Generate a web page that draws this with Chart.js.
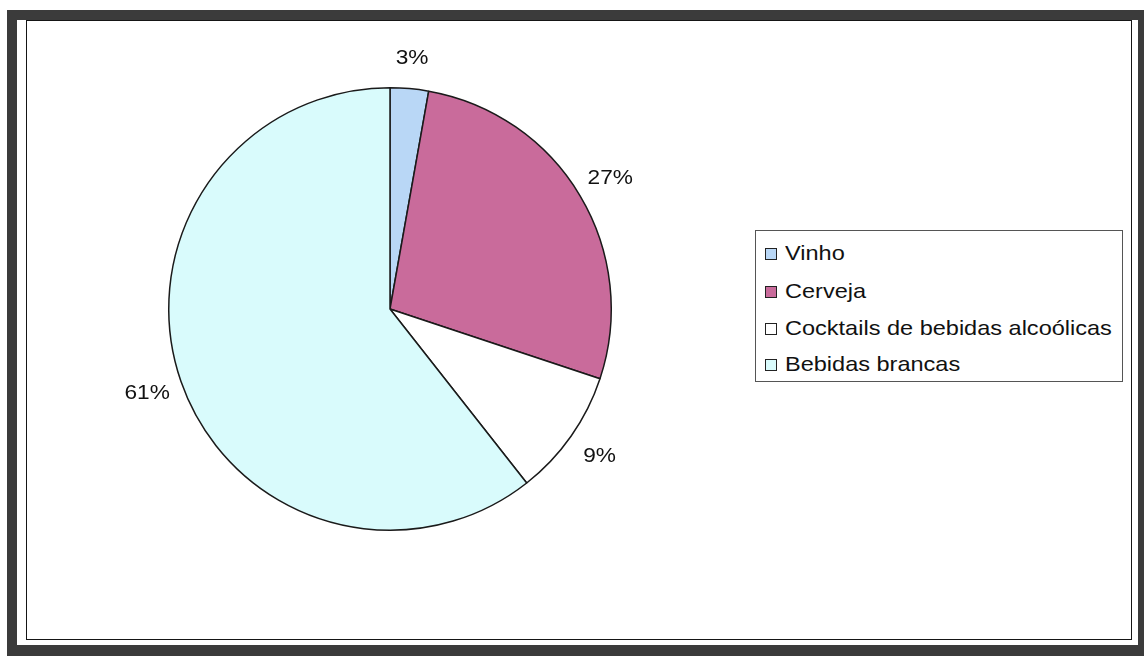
<!DOCTYPE html>
<html>
<head>
<meta charset="utf-8">
<script src="https://cdn.jsdelivr.net/npm/chart.js@4.4.1/dist/chart.umd.min.js"></script>
<style>
  html, body { margin:0; padding:0; background:#fff; width:1144px; height:656px; overflow:hidden; }
  #outer { position:absolute; left:7px; top:10px; width:1121px; height:625px;
           border-style:solid; border-color:#3b3b3b; border-width:10px 6px 11px 10px; }
  #inner { position:absolute; left:26px; top:20px; width:1106px; height:620px;
           border:1.5px solid #151515; box-sizing:border-box; }
  #chart { position:absolute; left:0; top:0; }
  #legend { position:absolute; left:755px; top:230px; width:368px; height:152px; box-sizing:border-box;
            border:1px solid #555; background:#fff;
            font-family:"Liberation Sans", Arial, sans-serif; font-size:21px; color:#111; }
  .item { position:absolute; left:9px; height:24px; line-height:24px; white-space:nowrap; }
  .sw { position:absolute; left:0; top:7px; width:10px; height:10px; border:1.3px solid #222; }
  .txt { position:absolute; left:20px; top:0; transform:scaleX(1.12); transform-origin:left center; }
</style>
</head>
<body>
<div id="outer"></div>
<div id="inner"></div>
<canvas id="chart" width="1144" height="656"></canvas>
<div id="legend"></div>
<script>
const categories = ['Vinho', 'Cerveja', 'Cocktails de bebidas alcoólicas', 'Bebidas brancas'];
const shares = [2.8, 27.3, 9.3, 60.6];
const sliceColors = ['#b9d7f6', '#c96b9b', '#ffffff', '#d9fbfc'];

const pctLabels = {
  id: 'pctLabels',
  afterDatasetsDraw(chart) {
    const ctx = chart.ctx;
    const meta = chart.getDatasetMeta(0);
    ctx.save();
    ctx.font = '21px "Liberation Sans", Arial, sans-serif';
    ctx.fillStyle = '#111';
    ctx.textAlign = 'center';
    ctx.textBaseline = 'middle';
    meta.data.forEach((arc, i) => {
      const p = arc.getProps(['x','y','startAngle','endAngle','outerRadius'], true);
      const mid = (p.startAngle + p.endAngle) / 2;
      const r = p.outerRadius + 30 + 6 * Math.abs(Math.cos(mid));
      const x = p.x + Math.cos(mid) * r;
      const y = p.y + Math.sin(mid) * r;
      ctx.save();
      ctx.translate(x, y);
      ctx.scale(1.08, 1);
      ctx.fillText(Math.round(shares[i]) + '%', 0, 0);
      ctx.restore();
    });
    ctx.restore();
  }
};

const chart = new Chart(document.getElementById('chart'), {
  type: 'pie',
  data: {
    labels: categories,
    datasets: [{
      data: shares,
      backgroundColor: sliceColors,
      borderColor: '#1a1a1a',
      borderWidth: 1.5
    }]
  },
  options: {
    responsive: false,
    animation: false,
    layout: { padding: { left: 168, right: 532, top: 87, bottom: 125 } },
    plugins: { legend: { display: false }, tooltip: { enabled: false } }
  },
  plugins: [pctLabels]
});

// HTML legend built from the chart's own legend items
const legendEl = document.getElementById('legend');
const rowTops = [10, 48, 85, 121];
chart.options.plugins.legend.labels.generateLabels(chart).forEach((it, i) => {
  const d = document.createElement('div');
  d.className = 'item';
  d.style.top = rowTops[i] + 'px';
  const sw = document.createElement('span');
  sw.className = 'sw';
  sw.style.background = it.fillStyle;
  const t = document.createElement('span');
  t.className = 'txt';
  t.textContent = it.text;
  d.appendChild(sw); d.appendChild(t);
  legendEl.appendChild(d);
});
</script>
</body>
</html>
